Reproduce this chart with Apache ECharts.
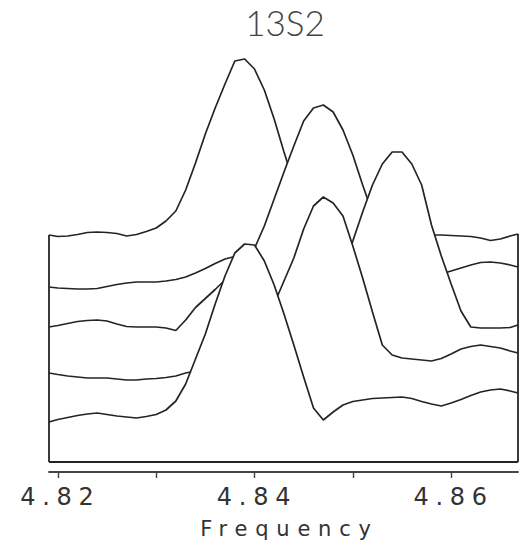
<!DOCTYPE html>
<html>
<head>
<meta charset="utf-8">
<style>
html,body{margin:0;padding:0;background:#fff;}
#chart{width:522px;height:548px;}
#chart text{letter-spacing:0.28em;}
#chart text[style*="sans-serif"]{letter-spacing:0.37em;}
#chart text[style*="Lato"]{letter-spacing:0;}
</style>
<script src="https://cdn.jsdelivr.net/npm/echarts@6/dist/echarts.min.js"></script>
</head>
<body>
<div id="chart"></div>
<script>
const title = '13S2';
const xName = 'Frequency';
const freq = [4.8191, 4.820, 4.821, 4.822, 4.823, 4.824, 4.825, 4.826, 4.827, 4.828,
  4.829, 4.830, 4.831, 4.832, 4.833, 4.834, 4.835, 4.836, 4.837, 4.838,
  4.839, 4.840, 4.841, 4.842, 4.843, 4.844, 4.845, 4.846, 4.847, 4.848,
  4.849, 4.850, 4.851, 4.852, 4.853, 4.854, 4.855, 4.856, 4.857, 4.858,
  4.859, 4.860, 4.861, 4.862, 4.863, 4.864, 4.865, 4.866, 4.8668];
const tickValues = [4.82, 4.83, 4.84, 4.85, 4.86];
const labelValues = [4.82, 4.84, 4.86];
// traces, back (top) to front (bottom), already offset
const trace1 = [227, 225.5, 226, 227.5, 229.5, 230, 229.5, 228.5, 226, 227.5,
  230.5, 234, 241, 251, 272, 299, 328, 354, 378, 401,
  403, 393, 372, 343, 310, 279, 252, 236, 229, 226,
  226, 226, 226, 226, 226, 226, 226, 226, 226, 227,
  227, 226.5, 226, 225.5, 224, 221.5, 223, 226, 228];
const trace2 = [175, 174, 173.5, 173, 173, 173.5, 175.5, 177.5, 179, 180,
  180, 180, 181, 182.5, 185, 189, 193.5, 198.5, 203, 205.5,
  209, 213.5, 236, 263, 290, 316, 341, 354, 357, 350,
  332, 307, 277, 249, 222, 204, 193, 188, 187, 187,
  188, 191, 194, 197, 199.5, 200, 199, 197, 195];
const trace3 = [135, 136.5, 138.5, 140.5, 141.5, 142, 141, 138, 135.5, 135,
  135, 135, 134, 131.5, 142, 154.5, 163.5, 172.5, 182, 190,
  192, 188, 179, 165, 154, 146, 142, 146, 160, 172,
  194, 221, 250, 277, 298, 310, 310, 298, 277, 237,
  206, 178, 151, 135, 134, 134, 134, 134.5, 137];
const trace4 = [89, 87.5, 86, 85, 84, 84, 84, 83, 82, 82,
  83, 83.5, 84.5, 86, 89, 91, 93, 97, 103, 109,
  117, 128, 143, 158, 181, 204, 233, 256, 265, 259,
  246, 216, 184, 150, 117, 107, 104, 103, 102, 101,
  103.5, 108, 113, 115.5, 117, 115.5, 114, 111, 109];
const trace5 = [40, 42.5, 44.5, 46.5, 48, 49, 47.5, 46, 45, 44,
  45.5, 47.5, 52, 61, 78, 103, 128, 158, 186, 209,
  218, 217, 201, 177, 148, 117, 85, 54, 42, 50,
  57, 60.5, 62, 63.5, 64, 64.5, 65, 63.5, 60.5, 58,
  56, 59, 62.5, 66.5, 70, 72, 73, 71, 69];
const traces = [trace1, trace2, trace3, trace4, trace5];

const lineColor = '#242424';
const x0 = freq[0], x1 = freq[freq.length - 1];

const series = traces.map((t, k) => {
  const s = {
    type: 'line',
    data: freq.map((f, i) => [f, t[i]]),
    symbol: 'none',
    showSymbol: false,
    smooth: false,
    silent: true,
    z: k + 1,
    lineStyle: { color: lineColor, width: 1.7 },
    areaStyle: { color: '#ffffff', opacity: 1 }
  };
  if (k === 0) {
    s.markLine = {
      z: 10,
      silent: true,
      symbol: 'none',
      label: { show: false },
      lineStyle: { type: 'solid', color: lineColor, width: 1.8 },
      data: [
        [{ coord: [x0, 0] }, { coord: [x0, trace1[0]] }],
        [{ coord: [x1, 0] }, { coord: [x1, trace1[trace1.length - 1]] }],
        [{ coord: [x0, 0] }, { coord: [x1, 0] }]
      ]
    };
  }
  return s;
});

const chart = echarts.init(document.getElementById('chart'), null, { renderer: 'svg' });
chart.setOption({
  animation: false,
  backgroundColor: '#ffffff',
  title: {
    text: title,
    left: 285,
    textAlign: 'center',
    top: 8,
    padding: 0,
    textStyle: { fontFamily: 'Lato', fontWeight: 300, fontSize: 35, lineHeight: 28, color: '#444' }
  },
  grid: { left: 49, right: 4, top: 52, bottom: 76 },
  xAxis: {
    type: 'value',
    min: x0,
    max: x1,
    name: xName,
    nameLocation: 'middle',
    nameGap: 44,
    nameTextStyle: { fontFamily: 'DejaVu Sans, sans-serif', fontSize: 21, color: '#333', padding: [2, 0, 0, 12] },
    axisLine: { show: true, onZero: false, lineStyle: { color: '#444', width: 1.8 } },
    axisTick: { show: true, length: 6, customValues: tickValues, lineStyle: { color: '#444', width: 1.4 } },
    axisLabel: {
      show: true, customValues: labelValues, margin: 13,
      fontFamily: 'DejaVu Sans', fontSize: 24, color: '#333', padding: [0, 0, 0, 5],
      formatter: v => v.toFixed(2)
    },
    splitLine: { show: false }
  },
  yAxis: {
    type: 'value', min: -10, max: 410, show: false,
    splitLine: { show: false }
  },
  series: series
});
</script>
</body>
</html>
